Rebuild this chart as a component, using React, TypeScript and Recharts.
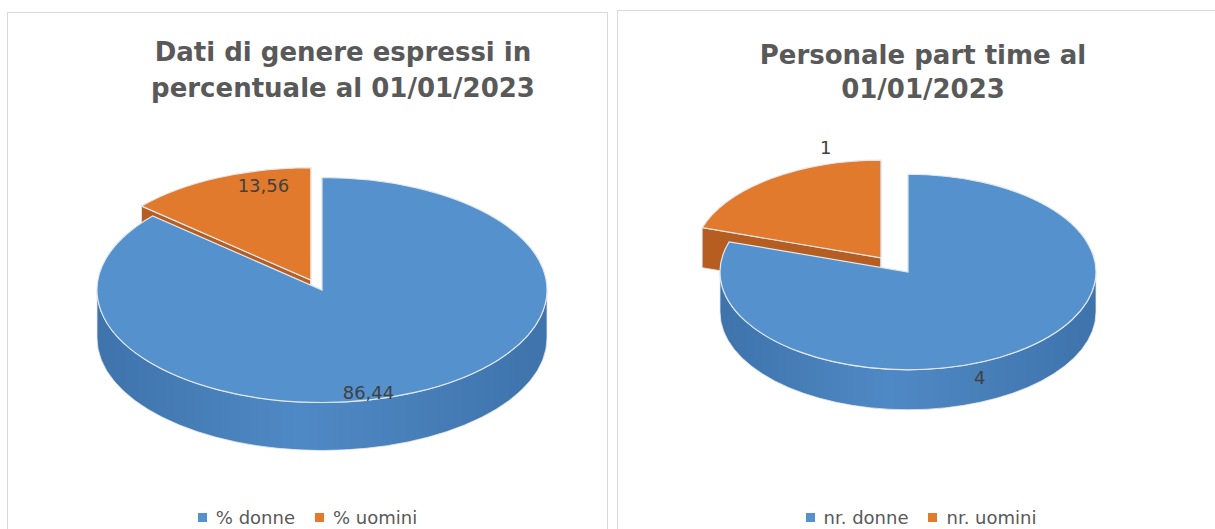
import { PieChart, Pie, Legend } from "recharts";

const RAD = Math.PI / 180;

// Dati di genere (percentuali)
const genderNames = ["% donne", "% uomini"];
const genderValues = [86.44, 13.56];
const genderLabels = ["86,44", "13,56"];

// Personale part time
const partTimeNames = ["nr. donne", "nr. uomini"];
const partTimeValues = [4, 1];
const partTimeLabels = ["4", "1"];

const topColors = ["#5592CD", "#E27A2E"];
const wallColors = [
  ["#3E73AB", "#4F89C5"],
  ["#B65E22", "#D3702B"],
];

const genderData = genderNames.map((name, i) => ({ name, value: genderValues[i] }));
const partTimeData = partTimeNames.map((name, i) => ({ name, value: partTimeValues[i] }));

type Geo = {
  id: string;
  k: number; // vertical squash of the pie
  depth: number;
  explode: number[];
  ke: number;
  labelFx: number[];
  labelFy: number[];
};

const genderGeo: Geo = {
  id: "g",
  k: 0.5,
  depth: 48,
  explode: [0, 27],
  ke: 0.4,
  labelFx: [0.5, 0.51],
  labelFy: [1.0, 0.92],
};

const partGeo: Geo = {
  id: "p",
  k: 0.52,
  depth: 40,
  explode: [0, 46],
  ke: 0.38,
  labelFx: [0.65, 0.5],
  labelFy: [1.33, 1.4],
};

const explodeOffset = (g: Geo, index: number, mid: number) => {
  const d = g.explode[index] || 0;
  return [d * Math.cos(mid * RAD), -d * g.ke * Math.sin(mid * RAD)];
};

const makeWallShape = (g: Geo) => (props: any) => {
  const { cx, cy, outerRadius: r, startAngle, endAngle, midAngle, index } = props;
  const [ox, oy] = explodeOffset(g, index, midAngle);
  const x0 = cx + ox;
  const y0 = cy + oy;
  const ry = g.k * r;
  const P = (a: number) => [x0 + r * Math.cos(a * RAD), y0 - ry * Math.sin(a * RAD)];
  const lo = Math.min(startAngle, endAngle);
  const hi = Math.max(startAngle, endAngle);
  const d = g.depth;
  const walls: string[] = [];
  for (let n = Math.floor(lo / 360) - 1; n <= Math.ceil(hi / 360); n++) {
    const a1 = Math.max(lo, 180 + 360 * n);
    const a2 = Math.min(hi, 360 + 360 * n);
    if (a2 - a1 > 0.01) {
      const [x1, y1] = P(a1);
      const [x2, y2] = P(a2);
      walls.push(
        `M${x1},${y1} A${r},${ry} 0 0 0 ${x2},${y2} L${x2},${y2 + d} A${r},${ry} 0 0 1 ${x1},${y1 + d} Z`
      );
    }
  }
  const cuts = [startAngle, endAngle].map((a: number) => {
    const [x1, y1] = P(a);
    return `M${x0},${y0} L${x1},${y1} L${x1},${y1 + d} L${x0},${y0 + d} Z`;
  });
  const gid = `wall-${g.id}-${index}`;
  const [dark, light] = wallColors[index % wallColors.length];
  return (
    <g>
      <defs>
        <linearGradient id={gid} gradientUnits="userSpaceOnUse" x1={x0 - r} y1={0} x2={x0 + r} y2={0}>
          <stop offset="0" stopColor={dark} />
          <stop offset="0.45" stopColor={light} />
          <stop offset="1" stopColor={dark} />
        </linearGradient>
      </defs>
      {cuts.map((p, i) => (
        <path key={"c" + i} d={p} fill={dark} stroke="#e6e9ee" strokeWidth={0.8} />
      ))}
      {walls.map((p, i) => (
        <path key={"w" + i} d={p} fill={`url(#${gid})`} stroke="#e6e9ee" strokeWidth={0.8} />
      ))}
    </g>
  );
};

const makeTopShape = (g: Geo) => (props: any) => {
  const { cx, cy, outerRadius: r, startAngle, endAngle, midAngle, index } = props;
  const [ox, oy] = explodeOffset(g, index, midAngle);
  const x0 = cx + ox;
  const y0 = cy + oy;
  const ry = g.k * r;
  const P = (a: number) => [x0 + r * Math.cos(a * RAD), y0 - ry * Math.sin(a * RAD)];
  const [x1, y1] = P(startAngle);
  const [x2, y2] = P(endAngle);
  const large = Math.abs(endAngle - startAngle) > 180 ? 1 : 0;
  const sweep = startAngle > endAngle ? 1 : 0;
  return (
    <path
      d={`M${x0},${y0} L${x1},${y1} A${r},${ry} 0 ${large} ${sweep} ${x2},${y2} Z`}
      fill={topColors[index % topColors.length]}
      stroke="#e3e8ef"
      strokeWidth={1.2}
    />
  );
};

const makeLabel = (g: Geo, labels: string[]) => (props: any) => {
  const { cx, cy, midAngle, outerRadius: r, index } = props;
  const [ox, oy] = explodeOffset(g, index, midAngle);
  const x = cx + ox + g.labelFx[index] * r * Math.cos(midAngle * RAD);
  const y = cy + oy - g.labelFy[index] * g.k * r * Math.sin(midAngle * RAD);
  return (
    <text
      x={x}
      y={y}
      textAnchor="middle"
      dominantBaseline="central"
      fill="#404040"
      fontSize={18}
      fontFamily="DejaVu Sans, sans-serif"
    >
      {labels[index]}
    </text>
  );
};

const renderLegend = (props: any) => {
  const seen: string[] = [];
  (props.payload || []).forEach((item: any) => {
    if (!seen.includes(item.value)) seen.push(item.value);
  });
  return (
    <div
      style={{
        display: "flex",
        justifyContent: "center",
        alignItems: "center",
        height: 22,
        fontFamily: "DejaVu Sans, sans-serif",
        fontSize: 18,
        color: "#595959",
      }}
    >
      {seen.map((name, i) => (
        <span key={name} style={{ display: "flex", alignItems: "center", marginRight: i === 0 ? 20 : 0 }}>
          <span
            style={{ width: 9, height: 9, background: topColors[i], marginRight: 9, display: "inline-block" }}
          />
          {name}
        </span>
      ))}
    </div>
  );
};

const titleStyle = {
  position: "absolute" as const,
  width: 600,
  textAlign: "center" as const,
  fontFamily: "DejaVu Sans, sans-serif",
  fontWeight: 700,
  fontSize: 26,
  color: "#595959",
};

const App = () => {
  return (
    <div
      style={{
        position: "absolute",
        left: 0,
        top: 0,
        width: 1215,
        height: 529,
        overflow: "hidden",
        background: "#fff",
      }}
    >
      {/* left panel */}
      <div
        style={{
          position: "absolute",
          left: 7,
          top: 12,
          width: 599,
          height: 530,
          border: "1px solid #d9d9d9",
          background: "#fff",
        }}
      >
        <div style={{ ...titleStyle, left: 35, top: 21, lineHeight: "36px" }}>
          Dati di genere espressi in
          <br />
          percentuale al 01/01/2023
        </div>
        <div style={{ position: "absolute", left: 0, top: 0 }}>
          <PieChart width={599} height={516} margin={{ top: 0, right: 0, bottom: 0, left: 0 }}>
            <Pie
              data={genderData}
              dataKey="value"
              nameKey="name"
              cx={314}
              cy={277}
              outerRadius={225}
              startAngle={90}
              endAngle={-270}
              shape={makeWallShape(genderGeo)}
              legendType="none"
              isAnimationActive={false}
            />
            <Pie
              data={genderData}
              dataKey="value"
              nameKey="name"
              cx={314}
              cy={277}
              outerRadius={225}
              startAngle={90}
              endAngle={-270}
              shape={makeTopShape(genderGeo)}
              label={makeLabel(genderGeo, genderLabels)}
              labelLine={false}
              isAnimationActive={false}
            />
            <Legend content={renderLegend} wrapperStyle={{ left: 0, width: 599, bottom: 1 }} />
          </PieChart>
        </div>
      </div>

      {/* right panel */}
      <div
        style={{
          position: "absolute",
          left: 617,
          top: 10,
          width: 620,
          height: 530,
          border: "1px solid #d9d9d9",
          background: "#fff",
        }}
      >
        <div style={{ ...titleStyle, left: 5, top: 27, lineHeight: "34px" }}>
          Personale part time al
          <br />
          01/01/2023
        </div>
        <div style={{ position: "absolute", left: 0, top: 0 }}>
          <PieChart width={620} height={518} margin={{ top: 0, right: 0, bottom: 0, left: 0 }}>
            <Pie
              data={partTimeData}
              dataKey="value"
              nameKey="name"
              cx={290}
              cy={261}
              outerRadius={188}
              startAngle={90}
              endAngle={-270}
              shape={makeWallShape(partGeo)}
              legendType="none"
              isAnimationActive={false}
            />
            <Pie
              data={partTimeData}
              dataKey="value"
              nameKey="name"
              cx={290}
              cy={261}
              outerRadius={188}
              startAngle={90}
              endAngle={-270}
              shape={makeTopShape(partGeo)}
              label={makeLabel(partGeo, partTimeLabels)}
              labelLine={false}
              isAnimationActive={false}
            />
            <Legend content={renderLegend} wrapperStyle={{ left: 0, width: 606, bottom: 1 }} />
          </PieChart>
        </div>
      </div>
    </div>
  );
};

export default App;
